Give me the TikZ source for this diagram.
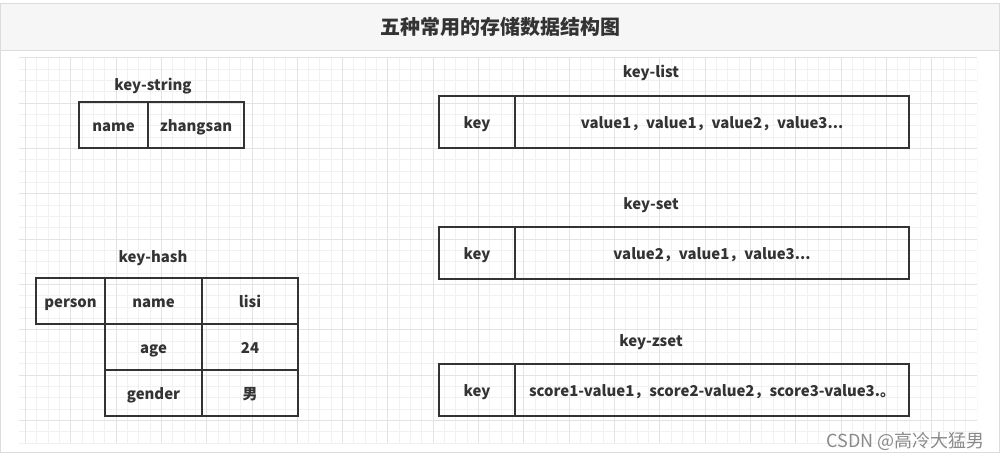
\documentclass[tikz,border=0pt]{standalone}
\usepackage{fontspec}
\setmainfont{Noto Sans CJK SC}
\usetikzlibrary{positioning}

\definecolor{inkgray}{HTML}{333333}
\definecolor{gridminor}{HTML}{F1F1F1}
\definecolor{gridmajor}{HTML}{E3E3E3}
\definecolor{barfill}{HTML}{F6F6F6}
\definecolor{barline}{HTML}{DCDCDC}
\definecolor{markgray}{HTML}{8A8A8A}

\newcommand{\pxl}{0.75pt}

\begin{document}
\begin{tikzpicture} [x=\pxl, y=-\pxl,
            node distance = 0pt,
            cell/.style = {draw=inkgray, line width=1pt,
                outer sep=0pt, inner sep=0pt,
                minimum height=46*\pxl, text=inkgray,
                text height=1em, text depth=0em,
                font=\bfseries\fontsize{11.2}{14}\selectfont},
            caption/.style = {text=inkgray,
                text height=0.95em, text depth=0.05em,
                font=\bfseries\fontsize{11.2}{14}\selectfont}]

        % Page, frame and title bar
        \fill[white] (0,0) rectangle (1000,460);
        \useasboundingbox (0,0) rectangle (1000,460);
        \draw[barline] (0.5,3) rectangle (999,452);
        \draw[barline, fill=barfill] (0.5,3) rectangle (999,50);
        \node (title) [text=inkgray,
            font=\bfseries\fontsize{15}{18}\selectfont] at (500,27)
            {五种常用的存储数据结构图};

        % Grid
        \begin{scope}
            \clip (19,58) rectangle (977,443);
            \foreach \gx in {0,...,84}
                \draw[gridminor, line width=0.75pt]
                    ({25.4+11.33*\gx},58) -- ({25.4+11.33*\gx},443);
            \foreach \gy in {0,...,34}
                \draw[gridminor, line width=0.75pt]
                    (19,{58+11.33*\gy}) -- (977,{58+11.33*\gy});
            \foreach \gx in {0,4,...,84}
                \draw[gridmajor, line width=0.75pt]
                    ({25.4+11.33*\gx},58) -- ({25.4+11.33*\gx},443);
            \foreach \gy in {0,4,...,32}
                \draw[gridmajor, line width=0.75pt]
                    (19,{58+11.33*\gy}) -- (977,{58+11.33*\gy});
        \end{scope}

        % key-string
        \node (strcap) [caption] at (153,85) {key-string};
        \node (strkey) [cell, anchor=north west,
            minimum width=69*\pxl] at (79,102) {name};
        \node (strval) [cell, minimum width=96*\pxl,
            right = of strkey] {zhangsan};

        % key-hash
        \node (hashcap) [caption] at (153,256) {key-hash};
        \node (hashkey) [cell, anchor=north west,
            minimum width=69*\pxl] at (36,278) {person};
        \node (field1) [cell, minimum width=97*\pxl,
            right = of hashkey] {name};
        \node (value1) [cell, minimum width=96*\pxl,
            right = of field1] {lisi};
        \node (field2) [cell, minimum width=97*\pxl,
            below = of field1] {age};
        \node (value2) [cell, minimum width=96*\pxl,
            below = of value1] {24};
        \node (field3) [cell, minimum width=97*\pxl,
            below = of field2] {gender};
        \node (value3) [cell, minimum width=96*\pxl,
            below = of value2] {男};

        % key-list
        \node (listcap) [caption] at (651,72) {key-list};
        \node (listkey) [cell, anchor=north west, minimum height=52*\pxl,
            minimum width=76*\pxl] at (439,96) {key};
        \node (listval) [cell, minimum height=52*\pxl,
            minimum width=394*\pxl,
            right = of listkey] {value1，value1，value2，value3...};

        % key-set
        \node (setcap) [caption] at (651,203) {key-set};
        \node (setkey) [cell, anchor=north west, minimum height=52*\pxl,
            minimum width=76*\pxl] at (439,227) {key};
        \node (setval) [cell, minimum height=52*\pxl,
            minimum width=394*\pxl,
            right = of setkey] {value2，value1，value3...};

        % key-zset
        \node (zsetcap) [caption] at (651,340) {key-zset};
        \node (zsetkey) [cell, anchor=north west, minimum height=52*\pxl,
            minimum width=76*\pxl] at (439,364) {key};
        \node (zsetval) [cell, minimum height=52*\pxl,
            minimum width=394*\pxl,
            right = of zsetkey] {score1-value1，score2-value2，score3-value3.。};

        % Watermark
        \node (mark) [anchor=base east, inner sep=0pt, text=markgray,
            font=\fontsize{13.5}{16}\selectfont] at (985,447)
            {CSDN @高冷大猛男};
\end{tikzpicture}
\end{document}
